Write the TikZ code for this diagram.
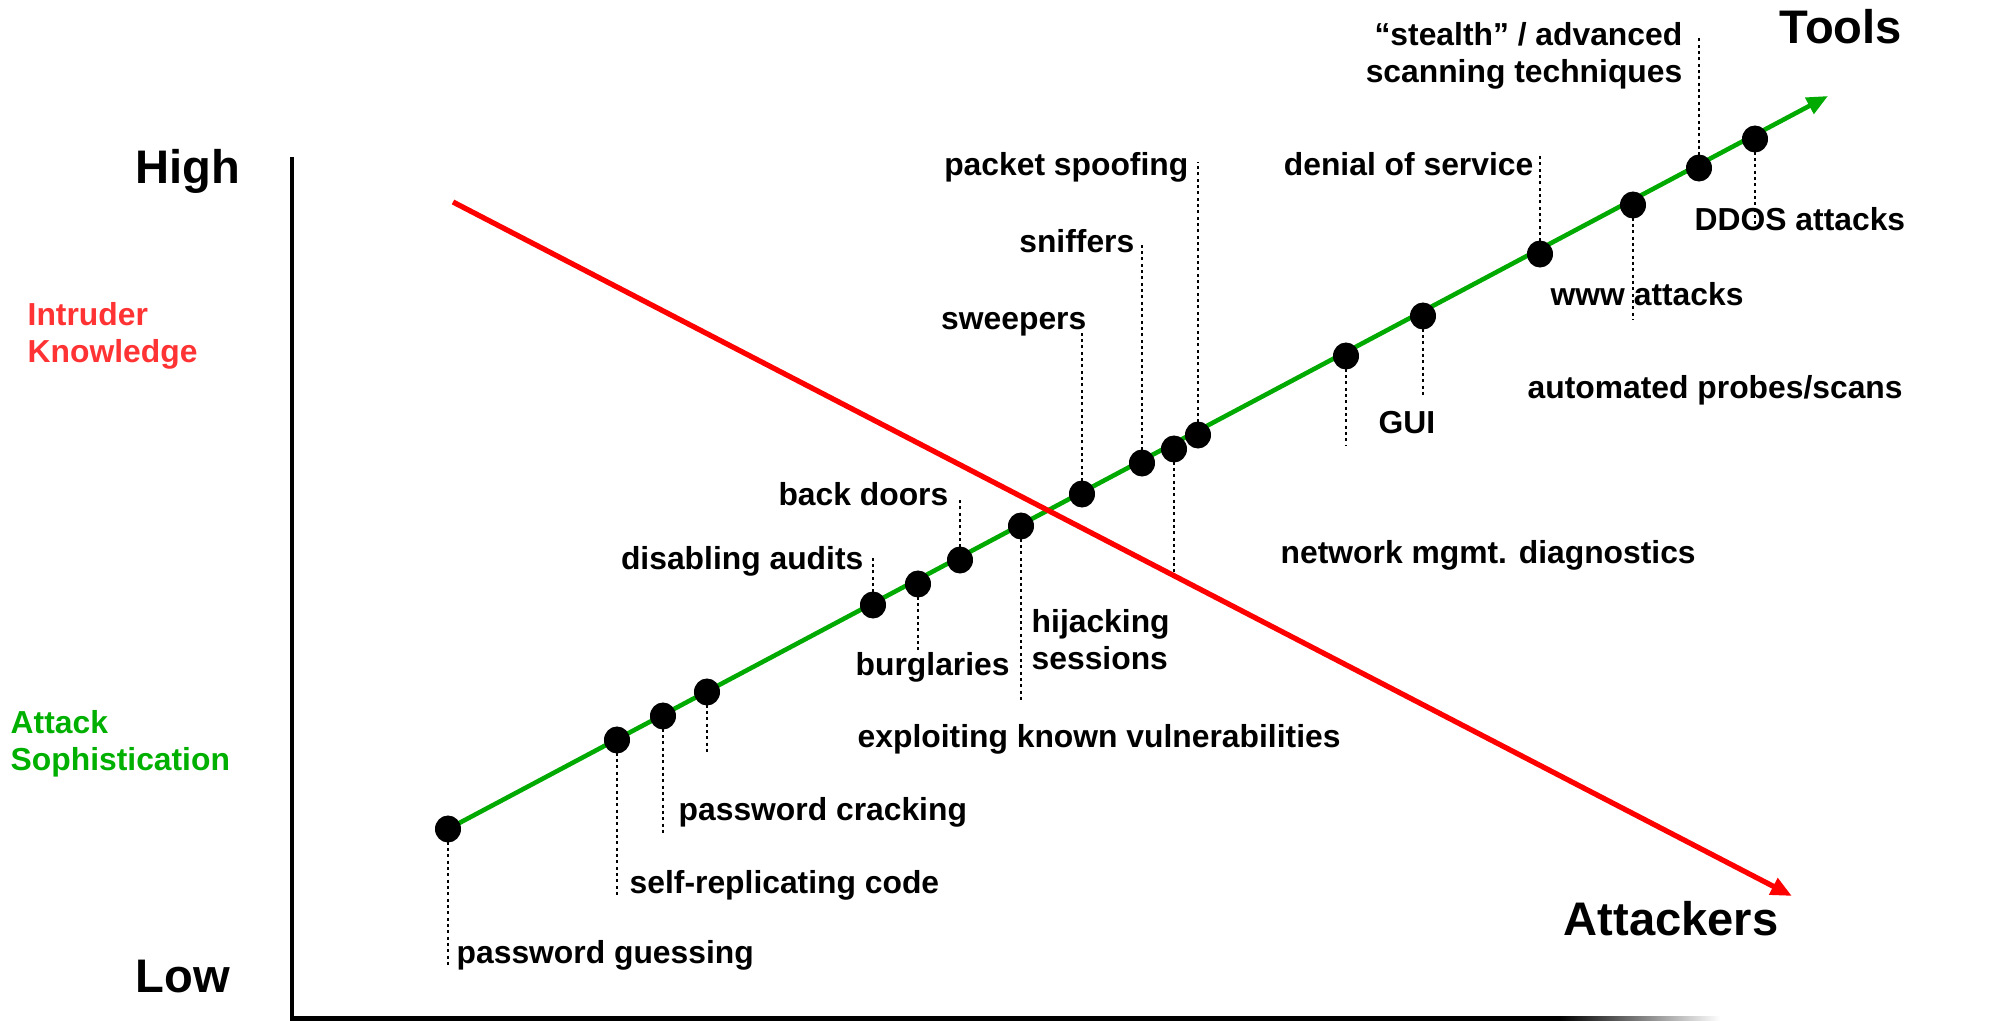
\documentclass[tikz,border=0pt]{standalone}
\usepackage{fontspec}
\setmainfont{Liberation Sans}
\usetikzlibrary{arrows.meta,shapes.geometric,backgrounds}
\definecolor{lineRed}{HTML}{FF0000}
\definecolor{textRed}{HTML}{FF3333}
\definecolor{lineGreen}{HTML}{00AA00}
\definecolor{textGreen}{HTML}{00B000}
\newcommand\labfont{\fontsize{9.05}{10.8}\selectfont\bfseries}
\newcommand\bigfont{\fontsize{13.4}{16}\selectfont\bfseries}
\newcommand\twolines[3]{\begin{tabular}[t]{@{}#1@{}}#2\\#3\end{tabular}}

\begin{document}
\begin{tikzpicture}[x=0.01cm,y=-0.01cm,
  lbl/.style={font=\labfont, inner sep=0pt},
  big/.style={font=\bigfont, inner sep=0pt},
  dot/.style={ellipse, fill=black, inner sep=0pt, minimum width=0.26cm, minimum height=0.27cm},
  tick/.style={line width=0.6pt, dash pattern=on 0.9pt off 0.9pt},
  trend/.style={line width=1.3pt}]
\useasboundingbox (0,0) rectangle (2014,1021);

% axes
\coordinate (ytop) at (292,157);
\coordinate (origin) at (292,1018.5);
\coordinate (xend) at (1560,1018.5);
\draw[line width=1.4pt] (ytop) -- (origin) -- (xend);
\shade[left color=black, right color=white] (1560,1016.5) rectangle (1720,1020.5);

% axis captions
\node[big, anchor=base west] (high) at (135,183) {High};
\node[big, anchor=base west] (low) at (135,992) {Low};
\node[lbl, anchor=base west, text=textRed] (know) at (27,325) {\twolines{l}{Intruder}{Knowledge}};
\node[lbl, anchor=base west, text=textGreen] (soph) at (10,733) {\twolines{l}{Attack}{Sophistication}};
\node[big, anchor=base west] (tools) at (1779,43) {Tools};
\node[big, anchor=base west] (attackers) at (1563,935) {Attackers};

% knowledge trend
\coordinate (kstart) at (453,202);
\coordinate (kend) at (1792,896);

% sophistication points along the trend
\node[dot] (d1) at (448,829) {};
\node[dot] (d2) at (617,740) {};
\node[dot] (d3) at (663,716) {};
\node[dot] (d4) at (707,692) {};
\node[dot] (d5) at (873,605) {};
\node[dot] (d6) at (918,584) {};
\node[dot] (d7) at (960,560) {};
\node[dot] (d8) at (1021,526) {};
\node[dot] (d9) at (1082,494) {};
\node[dot] (d10) at (1142,463) {};
\node[dot] (d11) at (1174,449) {};
\node[dot] (d12) at (1198,435) {};
\node[dot] (d13) at (1346,356) {};
\node[dot] (d14) at (1423,316) {};
\node[dot] (d15) at (1540,254) {};
\node[dot] (d16) at (1633,205) {};
\node[dot] (d17) at (1699,168) {};
\node[dot] (d18) at (1755,139) {};
\coordinate (gtip) at (1828,96);

% leader ends
\coordinate (e1) at (448,968);
\coordinate (e2) at (617,898);
\coordinate (e3) at (663,833);
\coordinate (e4) at (707,753);
\coordinate (e5) at (873,557);
\coordinate (e6) at (918,650);
\coordinate (e7) at (960,497);
\coordinate (e8) at (1021,703);
\coordinate (e9) at (1082,330);
\coordinate (e10) at (1142,245);
\coordinate (e11) at (1174,572);
\coordinate (e12) at (1198,162);
\coordinate (e13) at (1346,445);
\coordinate (e14) at (1423,397);
\coordinate (e15) at (1540,155);
\coordinate (e16) at (1633,320);
\coordinate (e17) at (1699,37);
\coordinate (e18) at (1755,226);

% labels
\node[lbl, anchor=base west] (l1) at (456,963) {password guessing};
\node[lbl, anchor=base west] (l2) at (629,893) {self-replicating code};
\node[lbl, anchor=base west] (l3) at (678,820) {password cracking};
\node[lbl, anchor=base east] (l5) at (864,569) {disabling audits};
\node[lbl, anchor=base west] (l6) at (855,675) {burglaries};
\node[lbl, anchor=base east] (l7) at (949,505) {back doors};
\node[lbl, anchor=base west] (l8a) at (1031,632) {\twolines{l}{hijacking}{sessions}};
\node[lbl, anchor=base west] (l8b) at (857,747) {exploiting known vulnerabilities};
\node[lbl, anchor=base east] (l9) at (1087,329) {sweepers};
\node[lbl, anchor=base east] (l10) at (1135,252) {sniffers};
\node[lbl, anchor=base west] (l11) at (1280,563) {network mgmt. diagnostics};
\node[lbl, anchor=base east] (l12) at (1189,175) {packet spoofing};
\node[lbl, anchor=base west] (l13) at (1378,433) {GUI};
\node[lbl, anchor=base west] (l14) at (1527,398) {automated probes/scans};
\node[lbl, anchor=base east] (l15) at (1534,175) {denial of service};
\node[lbl, anchor=base west] (l16) at (1550,305) {www attacks};
\node[lbl, anchor=base east] (l17) at (1683,45) {\twolines{r}{``stealth'' / advanced}{scanning techniques}};
\node[lbl, anchor=base west] (l18) at (1694,230) {DDOS attacks};

\begin{scope}[on background layer]
  % dotted leaders
  \foreach \i in {1,...,18} \draw[tick] (d\i.center) -- (e\i);
  % sophistication trend
  \draw[trend, lineGreen, -{Triangle[length=6pt,width=5pt]}] (d1.center) -- (gtip);
\end{scope}

% knowledge trend
\draw[line width=1.5pt, lineRed, -{Triangle[length=6pt,width=5pt]}] (kstart) -- (kend);
\end{tikzpicture}
\end{document}
